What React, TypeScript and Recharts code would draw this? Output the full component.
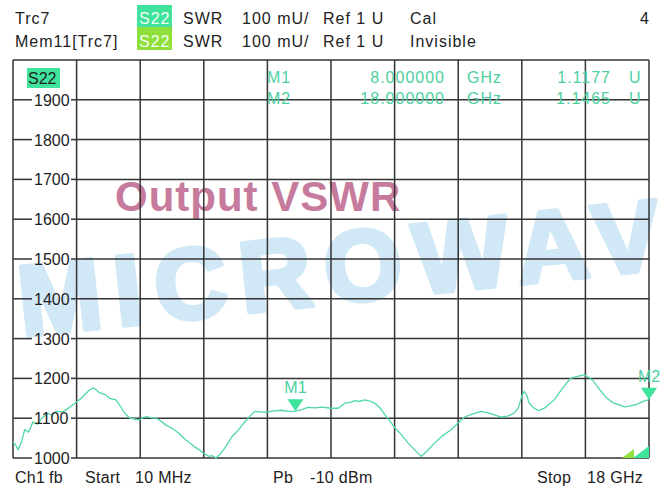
import React from 'react';
import { LineChart, Line, XAxis, YAxis, ReferenceLine, ReferenceDot } from 'recharts';

// trace S22 (SWR, mU)
const freqGHz = [
  0.01, 0.1, 0.15, 0.25, 0.34, 0.45, 0.57, 0.7, 0.85, 1.0, 1.1, 1.23, 1.4, 1.51, 1.65, 1.8,
  1.94, 2.05, 2.17, 2.28, 2.35, 2.45, 2.6, 2.75, 2.92, 3.05, 3.15, 3.3, 3.45, 3.58, 3.7, 3.8,
  3.95, 4.05, 4.2, 4.35, 4.52, 4.7, 4.89, 5.05, 5.15, 5.27, 5.4, 5.55, 5.65, 5.75, 5.85, 6.0,
  6.21, 6.4, 6.54, 6.7, 6.85, 7.0, 7.15, 7.35, 7.61, 7.8, 8.0, 8.2, 8.35, 8.55, 8.75, 9.0,
  9.21, 9.4, 9.55, 9.68, 9.8, 9.96, 10.1, 10.24, 10.4, 10.53, 10.65, 10.81, 11.0, 11.18, 11.4, 11.56,
  11.75, 11.94, 12.15, 12.4, 12.6, 12.78, 13.0, 13.25, 13.5, 13.81, 14.0, 14.19, 14.3, 14.4, 14.47, 14.54,
  14.61, 14.75, 14.89, 15.05, 15.32, 15.55, 15.78, 16.0, 16.16, 16.3, 16.44, 16.6, 16.81, 17.0, 17.19, 17.3,
  17.47, 17.65, 17.85, 18.0,
];
const swrMilliU = [
  1041, 1030, 1021, 1040, 1071, 1065, 1090, 1085, 1102, 1112, 1108, 1117, 1116, 1121, 1130, 1140,
  1150, 1160, 1171, 1176, 1172, 1164, 1160, 1150, 1146, 1130, 1115, 1101, 1098, 1096, 1102, 1104,
  1100, 1101, 1092, 1082, 1074, 1062, 1046, 1035, 1028, 1021, 1012, 1004, 1006, 1000, 1008, 1025,
  1054, 1072, 1088, 1104, 1117, 1116, 1115, 1118, 1120, 1117, 1118, 1122, 1127, 1126, 1128, 1125,
  1125, 1138, 1140, 1144, 1142, 1146, 1143, 1138, 1125, 1109, 1095, 1076, 1058, 1038, 1018, 1004,
  1020, 1038, 1055, 1071, 1088, 1103, 1110, 1117, 1112, 1103, 1105, 1113, 1125, 1155, 1167, 1158,
  1138, 1125, 1119, 1126, 1146, 1175, 1200, 1206, 1209, 1203, 1192, 1172, 1150, 1138, 1133, 1128,
  1131, 1135, 1143, 1146.5,
];

const yTicks = [1000, 1100, 1200, 1300, 1400, 1500, 1600, 1700, 1800, 1900];
const xGrid = [1.809, 3.608, 5.407, 7.206, 9.005, 10.804, 12.603, 14.402, 16.201];

const markerNames = ['M1', 'M2'];
const markerFreq = [8, 18];
const markerVal = [1117.7, 1146.5];
const markerFreqText = ['8.000000', '18.000000'];
const markerValText = ['1.1177', '1.1465'];

const data = freqGHz.map((f, i) => ({ f, v: swrMilliU[i] }));

const W = 663;
const H = 488;
const PLOT_LEFT = 13;
const FONT = '"Liberation Sans", Arial, sans-serif';
const GRID = '#333';
const TRACE = '#50d8a6';
const MARK = '#4dcf9f';

const YTick = (props: any) => {
  const { y, payload } = props;
  return (
    <g>
      <line x1={PLOT_LEFT} x2={PLOT_LEFT + 19} y1={y} y2={y} stroke={GRID} strokeWidth={1.5} />
      <text x={PLOT_LEFT + 21} y={y + 6} fontSize={16} fontFamily={FONT} fill="#222" textAnchor="start">
        {payload.value}
      </text>
      <line x1={PLOT_LEFT + 58} x2={PLOT_LEFT + 64} y1={y} y2={y} stroke={GRID} strokeWidth={1.5} />
    </g>
  );
};

const markerShape = (name: string) => (props: any) => {
  const { cx, cy } = props;
  return (
    <g>
      <polygon points={`${cx - 8},${cy - 12} ${cx + 8},${cy - 12} ${cx},${cy}`} fill="#3fe39b" />
      <text x={cx} y={cy - 18} textAnchor="middle" fontSize={16} fontFamily={FONT} fill={MARK}>
        {name}
      </text>
    </g>
  );
};

const txt = { fontFamily: FONT, fontSize: 16, fill: '#222', letterSpacing: 1 } as const;
const foot = { fontFamily: FONT, fontSize: 16, fill: '#222', letterSpacing: 0.3 } as const;

export default function App() {
  return (
    <div style={{ position: 'absolute', left: 0, top: 0, width: W, height: H, background: '#fff', overflow: 'hidden' }}>
      <svg width={W} height={H} style={{ position: 'absolute', left: 0, top: 0 }}>
        <text
          x={22}
          y={336}
          transform="rotate(-6 22 336)"
          fontFamily={FONT}
          fontWeight="bold"
          fontSize={100}
          letterSpacing={13}
          fill="#d1e8f6"
          stroke="#d1e8f6"
          strokeWidth={5}
          strokeLinejoin="round"
        >
          MICROWAVE
        </text>
        <text x={115} y={211} fontFamily={FONT} fontWeight="bold" fontSize={42} letterSpacing={1} fill="#c67a9c">
          Output VSWR
        </text>
      </svg>
      <div style={{ position: 'absolute', left: 0, top: 0 }}>
        <LineChart width={W} height={H} data={data} margin={{ top: 60, right: 14, bottom: 30, left: 0 }}>
          <XAxis type="number" dataKey="f" domain={[0.01, 18]} hide />
          <YAxis
            type="number"
            domain={[1000, 2000]}
            ticks={yTicks}
            interval={0}
            width={PLOT_LEFT}
            axisLine={false}
            tickLine={false}
            tick={<YTick />}
          />
          {xGrid.map((x) => (
            <ReferenceLine key={'vx' + x} x={x} stroke={GRID} strokeWidth={1.5} />
          ))}
          {yTicks.map((y) => (
            <ReferenceLine
              key={'hy' + y}
              segment={[{ x: xGrid[0], y }, { x: 18, y }]}
              stroke={GRID}
              strokeWidth={1.5}
            />
          ))}
          <ReferenceLine y={2000} stroke={GRID} strokeWidth={1.5} />
          <ReferenceLine x={0.01} stroke={GRID} strokeWidth={1.5} />
          <ReferenceLine x={18} stroke={GRID} strokeWidth={1.5} />
          <Line type="linear" dataKey="v" stroke={TRACE} strokeWidth={1.3} dot={false} isAnimationActive={false} />
          {markerNames.map((m, i) => (
            <ReferenceDot
              key={m}
              x={markerFreq[i]}
              y={markerVal[i]}
              r={0}
              ifOverflow="visible"
              shape={markerShape(m)}
            />
          ))}
        </LineChart>
      </div>
      <svg width={W} height={H} style={{ position: 'absolute', left: 0, top: 0, pointerEvents: 'none' }}>
        {/* header */}
        <text x={15} y={24} {...txt}>Trc7</text>
        <text x={15} y={47} {...txt}>Mem11[Trc7]</text>
        <rect x={137} y={5} width={35} height={22} fill="#3fe39b" />
        <rect x={137} y={27} width={35} height={23} fill="#8fe03a" />
        <text x={139} y={24} {...txt} fill="#f4fff4">S22</text>
        <text x={139} y={47} {...txt} fill="#f4fff4">S22</text>
        {[24, 47].map((y) => (
          <g key={y}>
            <text x={183} y={y} {...txt}>SWR</text>
            <text x={242} y={y} {...txt}>100 mU/</text>
            <text x={323} y={y} {...txt}>Ref 1 U</text>
          </g>
        ))}
        <text x={410} y={24} {...txt}>Cal</text>
        <text x={410} y={47} {...txt}>Invisible</text>
        <text x={650} y={24} {...txt} textAnchor="end">4</text>

        {/* plot annotations */}
        <rect x={27} y={68} width={33} height={20} fill="#3fe39b" />
        <text x={28} y={84} {...txt} letterSpacing={0}>S22</text>
        {markerNames.map((m, i) => (
          <g key={m} fontFamily={FONT} fontSize={16} fill={MARK} letterSpacing={1}>
            <text x={267} y={83 + i * 21}>{m}</text>
            <text x={445} y={83 + i * 21} textAnchor="end">{markerFreqText[i]}</text>
            <text x={467} y={83 + i * 21}>GHz</text>
            <text x={611} y={83 + i * 21} textAnchor="end">{markerValText[i]}</text>
            <text x={629} y={83 + i * 21}>U</text>
          </g>
        ))}
        <polygon points="622,458 634,449 634,458" fill="#8fe03a" />
        <polygon points="633,458 649,446 649,458" fill="#3fe39b" />

        {/* footer */}
        <text x={15} y={483} {...foot}>Ch1</text>
        <text x={49} y={483} {...foot}>fb</text>
        <text x={85} y={483} {...foot}>Start</text>
        <text x={135} y={483} {...foot}>10 MHz</text>
        <text x={273} y={483} {...foot}>Pb</text>
        <text x={310} y={483} {...foot}>-10 dBm</text>
        <text x={537} y={483} {...foot}>Stop</text>
        <text x={587} y={483} {...foot}>18 GHz</text>
      </svg>
    </div>
  );
}
